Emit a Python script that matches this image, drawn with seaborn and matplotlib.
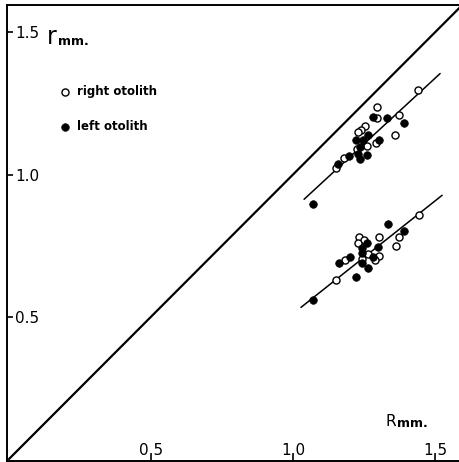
import matplotlib
matplotlib.use("Agg")
import matplotlib.pyplot as plt
import seaborn as sns
import pandas as pd

# otolith radius: R (x) vs r (y), two measurement groups
upper_right_R = [1.441, 1.297, 1.297, 1.373, 1.359, 1.252, 1.238, 1.229, 1.291, 1.262, 1.226, 1.181, 1.151]
upper_right_r = [1.297, 1.238, 1.198, 1.210, 1.140, 1.170, 1.157, 1.149, 1.110, 1.102, 1.091, 1.059, 1.024]
upper_left_R = [1.069, 1.283, 1.332, 1.391, 1.265, 1.303, 1.221, 1.198, 1.160, 1.236, 1.230, 1.259, 1.236, 1.248]
upper_left_r = [0.897, 1.203, 1.199, 1.181, 1.140, 1.123, 1.120, 1.065, 1.038, 1.097, 1.073, 1.067, 1.056, 1.120]

lower_right_R = [1.443, 1.303, 1.374, 1.363, 1.231, 1.250, 1.229, 1.265, 1.303, 1.290, 1.242, 1.183, 1.151]
lower_right_r = [0.858, 0.779, 0.779, 0.748, 0.779, 0.771, 0.760, 0.722, 0.713, 0.698, 0.703, 0.700, 0.631]
lower_left_R = [1.333, 1.391, 1.262, 1.299, 1.242, 1.242, 1.281, 1.201, 1.162, 1.242, 1.263, 1.221, 1.071]
lower_left_r = [0.827, 0.800, 0.760, 0.746, 0.742, 0.725, 0.711, 0.711, 0.690, 0.690, 0.672, 0.641, 0.560]

# fitted lines (end points) and the r = R diagonal
upper_fit_R = [1.039, 1.518]
upper_fit_r = [0.913, 1.355]
lower_fit_R = [1.028, 1.525]
lower_fit_r = [0.533, 0.927]
diag = [0.0, 1.65]

xticks = [0.5, 1.0, 1.5]
yticks = [0.5, 1.0, 1.5]

rows = []
for R, r, side in [(upper_right_R, upper_right_r, "right"), (upper_left_R, upper_left_r, "left"),
                   (lower_right_R, lower_right_r, "right"), (lower_left_R, lower_left_r, "left")]:
    for a, b in zip(R, r):
        rows.append({"R": a, "r": b, "side": side})
df = pd.DataFrame(rows)

sns.set_style("white")
plt.rcParams['font.family'] = ['DejaVu Sans']

fig = plt.figure(figsize=(4.6, 4.62), dpi=100)
ax = fig.add_axes([7 / 460, 1 / 462, 453 / 460, 456 / 462])

sns.lineplot(x=diag, y=diag, ax=ax, color="black", lw=1.6)
sns.lineplot(x=upper_fit_R, y=upper_fit_r, ax=ax, color="black", lw=1.1)
sns.lineplot(x=lower_fit_R, y=lower_fit_r, ax=ax, color="black", lw=1.1)

right = df[df.side == "right"]
left = df[df.side == "left"]
sns.scatterplot(data=right, x="R", y="r", ax=ax, s=26, facecolor="white",
                edgecolor="black", linewidth=1.0, zorder=3, label="right otolith")
sns.scatterplot(data=left, x="R", y="r", ax=ax, s=30, color="black",
                edgecolor="black", linewidth=0.5, zorder=4, label="left otolith")

ax.set_xlim(-0.007, 1.588)
ax.set_ylim(-0.007, 1.596)
ax.set_xticks(xticks)
ax.set_yticks(yticks)
ax.set_xticklabels(["0.5", "1.0", "1.5"])
ax.set_yticklabels(["0.5", "1.0", "1.5"])
ax.tick_params(axis="both", direction="in", length=4, width=1.2, labelsize=11,
               color="black", labelcolor="black", bottom=True, left=True)
ax.tick_params(axis="x", pad=-13)
ax.tick_params(axis="y", pad=-6)
for lab in ax.get_yticklabels():
    lab.set_ha("left")
ax.set_xlabel("")
ax.set_ylabel("")

for side in ["left", "bottom", "top"]:
    ax.spines[side].set_color("black")
    ax.spines[side].set_linewidth(1.4)
ax.spines["right"].set_visible(False)

ax.text(0.134, 1.46, "r", fontsize=17, ha="left", va="baseline", color="black")
ax.text(0.172, 1.457, "mm.", fontsize=9, fontweight="bold", ha="left", va="baseline", color="black")
ax.text(1.324, 0.115, "R", fontsize=11, ha="left", va="baseline", color="black")
ax.text(1.366, 0.113, "mm.", fontsize=9, fontweight="bold", ha="left", va="baseline", color="black")

leg = ax.legend(loc="upper left", bbox_to_anchor=(0.094, 0.848), frameon=False,
                fontsize=8.5, handlelength=0.8, handletextpad=0.65, labelspacing=1.9)
for t in leg.get_texts():
    t.set_fontweight("bold")
    t.set_color("black")

fig.savefig("out.png", dpi=100)
